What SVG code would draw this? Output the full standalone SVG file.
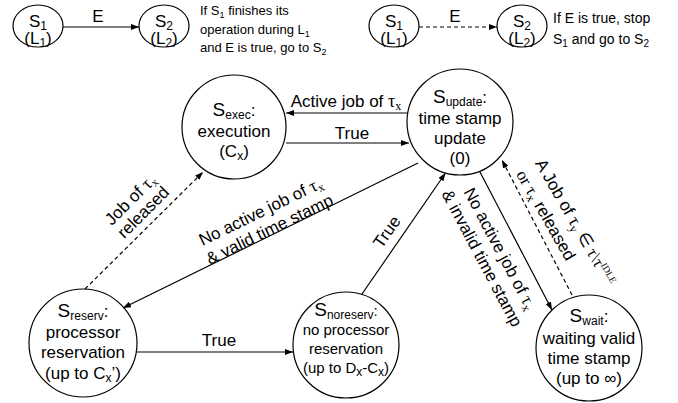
<svg xmlns="http://www.w3.org/2000/svg" width="678" height="403" viewBox="0 0 678 403">
<defs>
<marker id="ah" markerWidth="8" markerHeight="6" refX="8" refY="3" orient="auto" markerUnits="userSpaceOnUse"><path d="M0,0 L8,3 L0,6 z" fill="#000"/></marker>
</defs>
<style>
.n{fill:#fff;stroke:#000;stroke-width:1.2}
.t{font-family:"Liberation Sans",Arial,sans-serif;font-size:17px;fill:#000;text-anchor:middle}
.t15{font-size:15px}
.big{font-size:19px}
.sub{font-size:12px}
.l{font-family:"Liberation Sans",Arial,sans-serif;font-size:17px;fill:#000}
.s13{font-family:"Liberation Sans",Arial,sans-serif;font-size:13px;fill:#000}
.s14{font-family:"Liberation Sans",Arial,sans-serif;font-size:14px;fill:#000}
.g{font-family:"Liberation Serif","Times New Roman",serif}
.gs{font-family:"Liberation Serif","Times New Roman",serif;font-size:12px}
.sup{font-family:"Liberation Serif","Times New Roman",serif;font-size:9.5px}
.e{stroke:#000;stroke-width:1.2;fill:none;marker-end:url(#ah)}
.d{stroke-dasharray:4,3}
.m{text-anchor:middle}
</style>

<!-- legend -->
<g id="legend-solid">
<g id="leg1-s1"><ellipse class="n" cx="38" cy="26" rx="25" ry="21"/>
<text class="t" x="38" y="27">S<tspan class="sub" dy="3">1</tspan></text>
<text class="t" x="38" y="44">(L<tspan class="sub" dy="3">1</tspan><tspan dy="-3">)</tspan></text></g>
<g id="leg1-s2"><ellipse class="n" cx="164" cy="26" rx="25" ry="21"/>
<text class="t" x="164" y="27">S<tspan class="sub" dy="3">2</tspan></text>
<text class="t" x="164" y="44">(L<tspan class="sub" dy="3">2</tspan><tspan dy="-3">)</tspan></text></g>
<line class="e" x1="63" y1="27" x2="139" y2="27"/>
<text class="l m" x="98" y="22">E</text>
<text class="s13" x="200" y="15">If S<tspan font-size="9" dy="3">1</tspan><tspan dy="-3"> finishes its</tspan></text>
<text class="s13" x="200" y="34">operation during L<tspan font-size="9" dy="3">1</tspan></text>
<text class="s13" x="200" y="52">and E is true, go to S<tspan font-size="9" dy="3">2</tspan></text>
</g>

<g id="legend-dashed">
<g id="leg2-s1"><ellipse class="n" cx="394" cy="26" rx="25" ry="21"/>
<text class="t" x="394" y="27">S<tspan class="sub" dy="3">1</tspan></text>
<text class="t" x="394" y="44">(L<tspan class="sub" dy="3">1</tspan><tspan dy="-3">)</tspan></text></g>
<g id="leg2-s2"><ellipse class="n" cx="522" cy="26" rx="25" ry="21"/>
<text class="t" x="522" y="27">S<tspan class="sub" dy="3">2</tspan></text>
<text class="t" x="522" y="44">(L<tspan class="sub" dy="3">2</tspan><tspan dy="-3">)</tspan></text></g>
<line class="e d" x1="419" y1="27" x2="497" y2="27"/>
<text class="l m" x="455" y="22">E</text>
<text class="s14" x="553" y="23">If E is true, stop</text>
<text class="s14" x="553" y="44">S<tspan font-size="10" dy="3">1</tspan><tspan dy="-3"> and go to S</tspan><tspan font-size="10" dy="3">2</tspan></text>
</g>

<!-- nodes -->
<g id="s-exec">
<circle class="n" cx="234" cy="127" r="52"/>
<text class="t" x="234" y="116"><tspan class="big">S</tspan><tspan class="sub" dy="3">exec</tspan><tspan dy="-3">:</tspan></text>
<text class="t" x="234" y="137">execution</text>
<text class="t" x="234" y="157">(C<tspan class="sub" dy="3">x</tspan><tspan dy="-3">)</tspan></text>
</g>

<g id="s-update">
<circle class="n" cx="460" cy="122" r="53"/>
<text class="t" x="460" y="103"><tspan class="big">S</tspan><tspan class="sub" dy="3">update</tspan><tspan dy="-3">:</tspan></text>
<text class="t" x="460" y="124">time stamp</text>
<text class="t" x="460" y="144">update</text>
<text class="t" x="460" y="164">(0)</text>
</g>

<g id="s-reserv">
<circle class="n" cx="83" cy="343" r="54"/>
<text class="t" x="83" y="317"><tspan class="big">S</tspan><tspan class="sub" dy="3">reserv</tspan><tspan dy="-3">:</tspan></text>
<text class="t" x="83" y="338">processor</text>
<text class="t" x="83" y="358">reservation</text>
<text class="t" x="83" y="379">(up to C<tspan class="sub" dy="3">x</tspan><tspan dy="-3">’)</tspan></text>
</g>

<g id="s-noreserv">
<circle class="n" cx="346" cy="345" r="53"/>
<text class="t t15" x="346" y="316"><tspan class="big">S</tspan><tspan class="sub" dy="3">noreserv</tspan><tspan dy="-3">:</tspan></text>
<text class="t t15" x="346" y="335">no processor</text>
<text class="t t15" x="346" y="354">reservation</text>
<text class="t t15" x="346" y="373">(up to D<tspan class="sub" dy="3">x</tspan><tspan dy="-3">-C</tspan><tspan class="sub" dy="3">x</tspan><tspan dy="-3">)</tspan></text>
</g>

<g id="s-wait">
<circle class="n" cx="589" cy="348" r="53"/>
<text class="t" x="589" y="322"><tspan class="big">S</tspan><tspan class="sub" dy="3">wait</tspan><tspan dy="-3">:</tspan></text>
<text class="t" x="589" y="344">waiting valid</text>
<text class="t" x="589" y="364">time stamp</text>
<text class="t" x="589" y="384">(up to ∞)</text>
</g>

<!-- connectors -->
<g id="connectors">
<line class="e" x1="408" y1="113" x2="286" y2="113"/>
<text class="l m" x="346" y="107">Active job of <tspan class="g" font-size="18">τ</tspan><tspan class="gs" dy="3">x</tspan></text>

<line class="e" x1="286" y1="143" x2="409" y2="143"/>
<text class="l m" x="352" y="139">True</text>

<line class="e" x1="418" y1="163" x2="123" y2="308"/>
<g transform="translate(265.5,221) rotate(-26)">
<text class="l m" x="0" y="-5">No active job of <tspan class="g" font-size="18">τ</tspan><tspan class="gs" dy="3">x</tspan></text>
<text class="l m" x="0" y="15">&amp; valid time stamp</text>
</g>

<line class="e d" x1="85" y1="289" x2="203" y2="172"/>
<g transform="translate(137,206) rotate(-45)">
<text class="l m" x="0" y="-3.5">Job of <tspan class="g" font-size="18">τ</tspan><tspan class="gs" dy="3">x</tspan></text>
<text class="l m" x="0" y="14.5">released</text>
</g>

<line class="e" x1="137" y1="352" x2="293" y2="352"/>
<text class="l m" x="219" y="346">True</text>

<line class="e" x1="362" y1="294" x2="445.5" y2="173"/>
<g transform="translate(387,232) rotate(-55)">
<text class="l m" x="0" y="5.5">True</text>
</g>

<line class="e" x1="480" y1="172" x2="552" y2="310"/>
<g transform="translate(491,253.5) rotate(62)">
<text class="l m" x="0" y="-4.5">No active job of <tspan class="g" font-size="18">τ</tspan><tspan class="gs" dy="3">x</tspan></text>
<text class="l m" x="0" y="16">&amp; invalid time stamp</text>
</g>

<line class="e d" x1="572" y1="295" x2="502" y2="160"/>
<g transform="translate(530,166) rotate(60)">
<text class="l" x="0" y="-5.5">A Job of <tspan class="g" font-size="18">τ</tspan><tspan class="gs" dy="3">y</tspan><tspan class="g" dy="-3"> ∈ τ\τ</tspan><tspan class="sup" dy="-6">IDLE</tspan></text>
<text class="l" x="0" y="16.5"><tspan class="g">or τ</tspan><tspan class="gs" dy="3">x</tspan><tspan dy="-3"> released</tspan></text>
</g>
</g>
</svg>
